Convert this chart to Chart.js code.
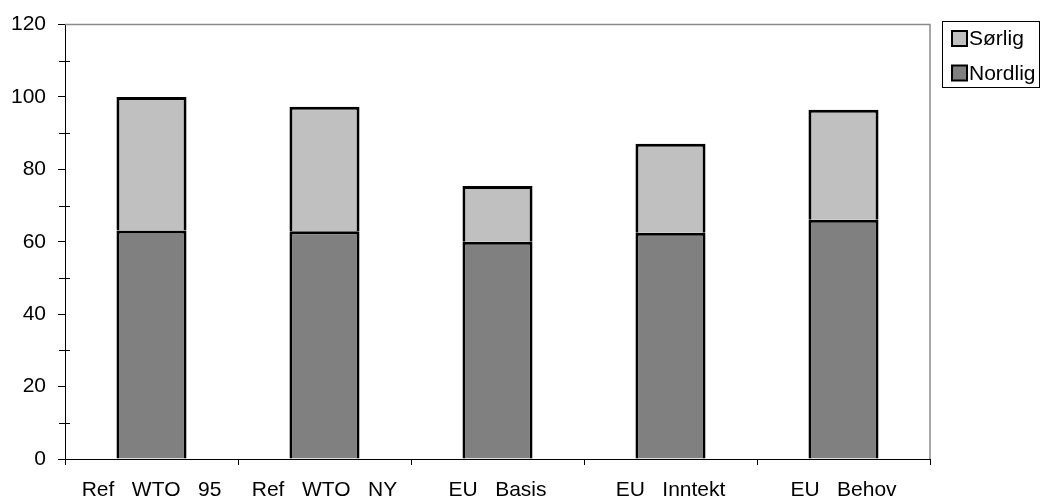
<!DOCTYPE html>
<html>
<head>
<meta charset="utf-8">
<script src="https://cdn.jsdelivr.net/npm/chart.js@4"></script>
<style>
  html, body { margin: 0; padding: 0; background: #ffffff; }
  #wrap { width: 1042px; height: 500px; }
</style>
</head>
<body>
<div id="wrap"><canvas id="c" width="1042" height="500"></canvas></div>
<script>
// Categories and series (stacked: Nordlig at the bottom, Sørlig on top)
const categories = ['Ref   WTO   95', 'Ref   WTO   NY', 'EU   Basis', 'EU   Inntekt', 'EU   Behov'];
const nordlig = [63.1, 62.9, 60.0, 62.5, 66.1];
const sorlig = [36.9, 34.4, 15.4, 24.6, 30.4];
const yMajorTicks = [0, 20, 40, 60, 80, 100, 120];
const yMinorTicks = [10, 30, 50, 70, 90, 110];

const FONT = '"Liberation Sans", Arial, Helvetica, sans-serif';

// Grey frame along the top and right of the plot, plus minor y ticks
const framePlugin = {
  id: 'frame',
  afterDatasetsDraw(chart) {
    const { ctx, chartArea: a, scales } = chart;
    ctx.save();
    ctx.strokeStyle = '#8a8a8a';
    ctx.lineWidth = 1.5;
    ctx.beginPath();
    ctx.moveTo(a.left, a.top);
    ctx.lineTo(a.right, a.top);
    ctx.lineTo(a.right, a.bottom);
    ctx.stroke();

    ctx.strokeStyle = '#000000';
    ctx.lineWidth = 1;
    ctx.beginPath();
    yMinorTicks.forEach(v => {
      const y = Math.round(scales.y.getPixelForValue(v)) + 0.5;
      ctx.moveTo(a.left - 6, y);
      ctx.lineTo(a.left + 5, y);
    });
    ctx.stroke();
    ctx.restore();
  }
};

// Boxed legend to the right of the plot, top entry = top segment
const legendPlugin = {
  id: 'boxLegend',
  afterDraw(chart) {
    const { ctx } = chart;
    const items = chart.data.datasets.slice().reverse();
    ctx.save();
    ctx.strokeStyle = '#000000';
    ctx.lineWidth = 1;
    ctx.strokeRect(942.5, 21.5, 97, 66);
    ctx.font = '21px ' + FONT;
    ctx.textBaseline = 'middle';
    ctx.textAlign = 'left';
    items.forEach((ds, i) => {
      const cy = 38.5 + i * 34.5;
      ctx.fillStyle = ds.backgroundColor;
      ctx.fillRect(952, cy - 7.5, 15, 15);
      ctx.lineWidth = 2;
      ctx.strokeStyle = '#000000';
      ctx.strokeRect(952, cy - 7.5, 15, 15);
      ctx.fillStyle = '#000000';
      ctx.fillText(ds.label, 969, cy + 1);
    });
    ctx.restore();
  }
};

new Chart(document.getElementById('c'), {
  type: 'bar',
  data: {
    labels: categories,
    datasets: [
      {
        label: 'Nordlig',
        data: nordlig,
        backgroundColor: '#808080',
        borderColor: '#000000',
        borderWidth: 3,
        borderSkipped: 'bottom'
      },
      {
        label: 'Sørlig',
        data: sorlig,
        backgroundColor: '#c0c0c0',
        borderColor: '#000000',
        borderWidth: 3,
        borderSkipped: 'bottom'
      }
    ]
  },
  options: {
    responsive: false,
    animation: false,
    devicePixelRatio: 1,
    layout: { padding: { left: 0, top: 22, right: 112, bottom: 0 } },
    datasets: { bar: { categoryPercentage: 1, barPercentage: 0.405 } },
    plugins: {
      legend: { display: false },
      tooltip: { enabled: false },
      title: { display: false }
    },
    scales: {
      x: {
        stacked: true,
        offset: true,
        afterFit(s) { s.height = 41; },
        grid: {
          offset: true,
          drawOnChartArea: false,
          drawTicks: true,
          tickLength: 6,
          color: '#000000'
        },
        border: { display: true, color: '#000000', width: 1 },
        ticks: {
          color: '#000000',
          font: { family: FONT, size: 21 },
          padding: 13,
          maxRotation: 0,
          autoSkip: false
        }
      },
      y: {
        stacked: true,
        min: 0,
        max: 120,
        afterFit(s) { s.width = 65; },
        afterBuildTicks(s) { s.ticks = yMajorTicks.map(v => ({ value: v })); },
        grid: {
          drawOnChartArea: false,
          drawTicks: true,
          tickLength: 7,
          color: '#000000'
        },
        border: { display: true, color: '#000000', width: 1 },
        ticks: {
          color: '#000000',
          font: { family: FONT, size: 21 },
          padding: 12
        }
      }
    }
  },
  plugins: [framePlugin, legendPlugin]
});
</script>
</body>
</html>
